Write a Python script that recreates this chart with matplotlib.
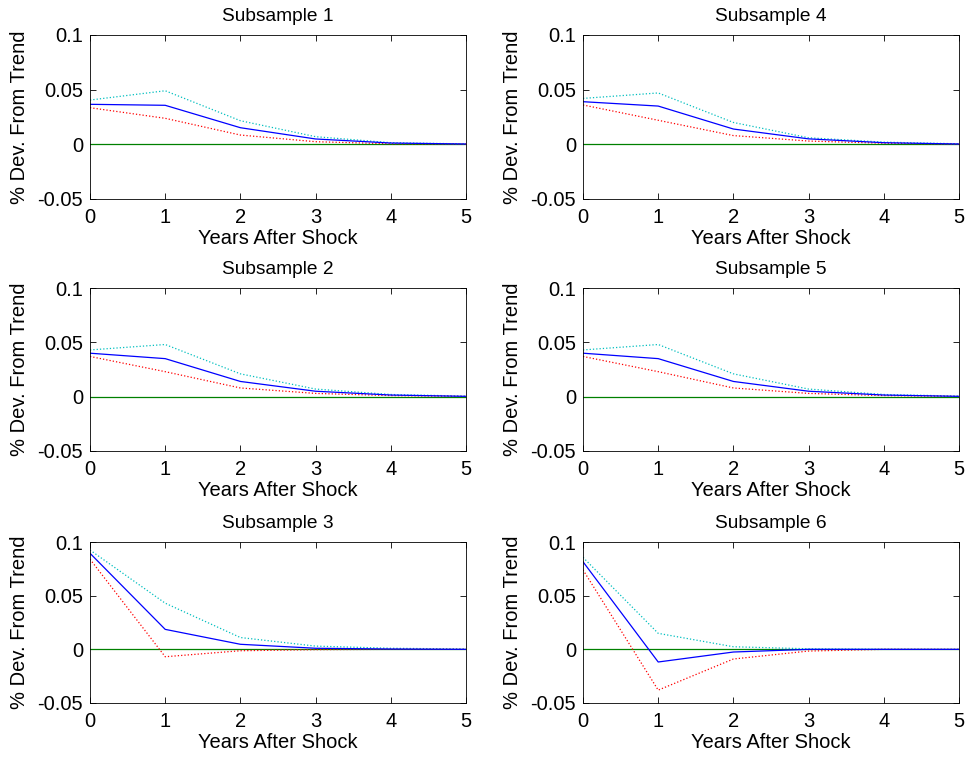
import numpy as np
import matplotlib
matplotlib.use("Agg")
import matplotlib.pyplot as plt

plt.rcParams['font.family'] = ['Liberation Sans', 'DejaVu Sans']

years = [0, 1, 2, 3, 4, 5]
titles = ["Subsample 1", "Subsample 2", "Subsample 3",
          "Subsample 4", "Subsample 5", "Subsample 6"]

# point estimate, upper band, lower band for each subsample
irf_1 = [0.0366, 0.0357, 0.0152, 0.0049, 0.0012, 0.0003]
upper_1 = [0.0405, 0.0490, 0.0216, 0.0070, 0.0015, 0.0004]
lower_1 = [0.0335, 0.0238, 0.0085, 0.0024, 0.0005, 0.0002]

irf_2 = [0.0400, 0.0350, 0.0140, 0.0050, 0.0015, 0.0003]
upper_2 = [0.0430, 0.0480, 0.0210, 0.0070, 0.0020, 0.0005]
lower_2 = [0.0370, 0.0230, 0.0080, 0.0030, 0.0010, 0.0002]

irf_3 = [0.0895, 0.0186, 0.0047, 0.0010, 0.0003, 0.0000]
upper_3 = [0.0925, 0.0430, 0.0110, 0.0030, 0.0010, 0.0003]
lower_3 = [0.0840, -0.0069, -0.0013, -0.0003, 0.0000, 0.0000]

irf_4 = [0.0390, 0.0350, 0.0140, 0.0050, 0.0015, 0.0003]
upper_4 = [0.0420, 0.0470, 0.0200, 0.0060, 0.0020, 0.0005]
lower_4 = [0.0360, 0.0220, 0.0080, 0.0030, 0.0010, 0.0002]

irf_5 = [0.0400, 0.0350, 0.0140, 0.0050, 0.0015, 0.0003]
upper_5 = [0.0430, 0.0480, 0.0210, 0.0070, 0.0020, 0.0005]
lower_5 = [0.0370, 0.0230, 0.0080, 0.0030, 0.0010, 0.0002]

irf_6 = [0.0816, -0.0118, -0.0025, 0.0000, 0.0000, 0.0000]
upper_6 = [0.0857, 0.0149, 0.0024, 0.0005, 0.0001, 0.0000]
lower_6 = [0.0740, -0.0380, -0.0090, -0.0016, 0.0000, 0.0000]

irfs = [irf_1, irf_2, irf_3, irf_4, irf_5, irf_6]
uppers = [upper_1, upper_2, upper_3, upper_4, upper_5, upper_6]
lowers = [lower_1, lower_2, lower_3, lower_4, lower_5, lower_6]

fig = plt.figure(figsize=(9.65, 7.6), dpi=100)

W, H = 965.0, 760.0
cols = [(90, 466), (583, 959)]
rows = [(35, 199), (288, 451), (542, 703)]

fs = 14.5
for k in range(6):
    c = k // 3
    r = k % 3
    x0, x1 = cols[c]
    yt, yb = rows[r]
    ax = fig.add_axes([x0 / W, 1 - yb / H, (x1 - x0) / W, (yb - yt) / H])
    ax.plot(years, [0] * len(years), color=(0, 0.5, 0), lw=0.9)
    ax.plot(years, uppers[k], color=(0, 0.75, 0.75), ls=':', lw=0.9)
    ax.plot(years, lowers[k], color=(1, 0, 0), ls=':', lw=0.9)
    ax.plot(years, irfs[k], color=(0, 0, 1), lw=0.9)
    ax.set_xlim(0, 5)
    ax.set_ylim(-0.05, 0.1)
    ax.set_xticks(years)
    ax.set_yticks([-0.05, 0, 0.05, 0.1])
    ax.set_yticklabels(["-0.05", "0", "0.05", "0.1"])
    ax.tick_params(direction='in', top=True, right=True, labelsize=fs,
                   length=4, width=0.6)
    ax.tick_params(axis='x', pad=6.5)
    ax.tick_params(axis='y', pad=5)
    for s in ax.spines.values():
        s.set_linewidth(0.6)
    ax.set_title(titles[k], fontsize=fs * 0.95, pad=10)
    ax.set_xlabel("Years After Shock", fontsize=fs, labelpad=1.5)
    ax.set_ylabel("% Dev. From Trend", fontsize=fs, labelpad=6)

fig.savefig("out.png", dpi=100)
